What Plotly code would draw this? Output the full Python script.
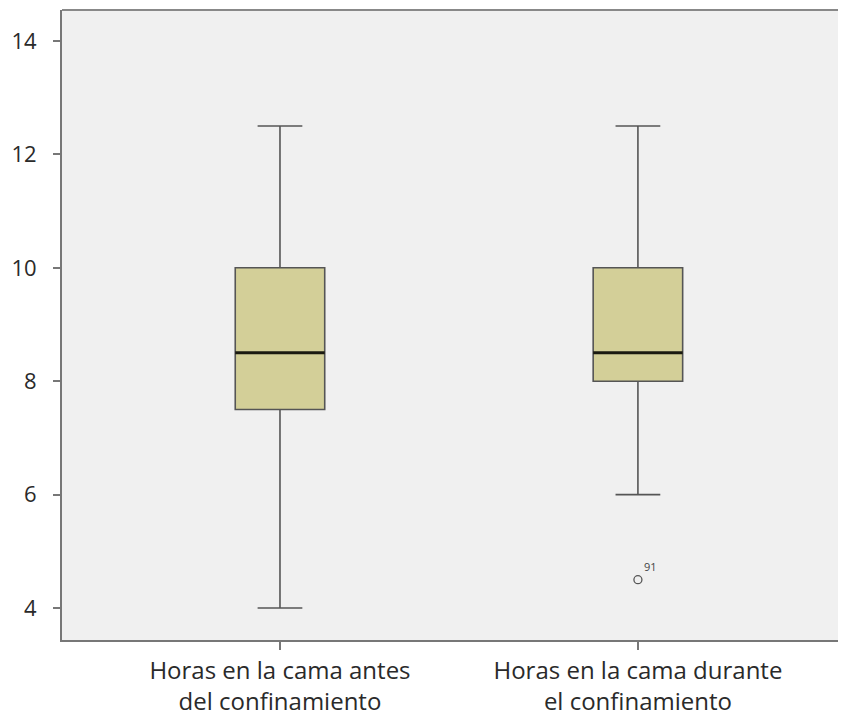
import plotly.graph_objects as go

categories = ["Horas en la cama antes<br>del confinamiento", "Horas en la cama durante<br>el confinamiento"]
positions = [0, 1]
q1 = [7.5, 8.0]
median = [8.5, 8.5]
q3 = [10.0, 10.0]
lowerfence = [4.0, 6.0]
upperfence = [12.5, 12.5]
outlier_pos = [1]
outlier_val = [4.5]
outlier_lbl = ["91"]
ytick_vals = [4, 6, 8, 10, 12, 14]

BOX_W = 0.25
FILL = "#d3cf98"
EDGE = "#555555"

fig = go.Figure()
for i in range(len(positions)):
    fig.add_trace(go.Box(
        x=[positions[i]], q1=[q1[i]], median=[median[i]], q3=[q3[i]],
        lowerfence=[lowerfence[i]], upperfence=[upperfence[i]],
        width=BOX_W, whiskerwidth=0.5, fillcolor=FILL,
        line=dict(color=EDGE, width=1.6), showlegend=False, hoverinfo="skip",
    ))
    fig.add_trace(go.Scatter(
        x=[positions[i] - BOX_W / 2, positions[i] + BOX_W / 2],
        y=[median[i], median[i]], mode="lines",
        line=dict(color="#1a1a10", width=3), showlegend=False, hoverinfo="skip",
    ))

fig.add_trace(go.Scatter(
    x=outlier_pos, y=outlier_val, mode="markers+text",
    marker=dict(symbol="circle-open", size=8, color="#555555", line=dict(width=1.3)),
    text=outlier_lbl, textposition="top right",
    textfont=dict(family="Open Sans", size=11, color="#444444"),
    showlegend=False, hoverinfo="skip",
))

fig.update_layout(
    width=830, height=709,
    margin=dict(l=54, r=0, t=2, b=77),
    paper_bgcolor="white", plot_bgcolor="#f0f0f0",
    font=dict(family="Open Sans", size=24, color="#2a2a2a"),
    xaxis=dict(
        range=[-0.609, 1.559], tickmode="array", tickvals=positions, ticktext=categories,
        showgrid=False, zeroline=False, showline=True, linecolor="#777777", linewidth=2,
        ticks="outside", ticklen=8, tickcolor="#777777", tickwidth=1.5,
        tickfont=dict(size=24),
        mirror=False,
    ),
    yaxis=dict(
        range=[3.436, 14.547], tickmode="array", tickvals=ytick_vals,
        showgrid=False, zeroline=False, showline=True, linecolor="#777777", linewidth=2,
        ticks="outside", ticklen=7, tickcolor="#777777", tickwidth=1.5,
        tickfont=dict(size=22),
        ticklabelstandoff=12,
    ),
    shapes=[dict(type="line", xref="paper", yref="paper", x0=0, x1=1, y0=1, y1=1,
                 line=dict(color="#888888", width=2))],
)

fig.write_html("out.html")
